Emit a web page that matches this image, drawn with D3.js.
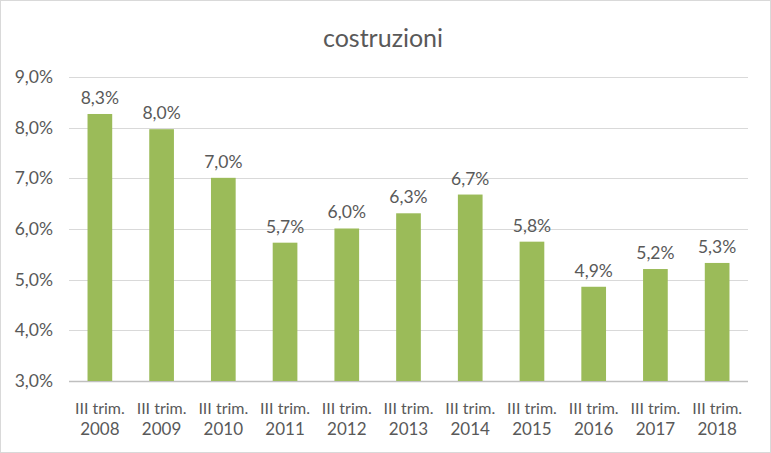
<!DOCTYPE html>
<html><head><meta charset="utf-8">
<script src="https://d3js.org/d3.v7.min.js"></script>
<style>body{margin:0;background:#fff}svg{display:block}text{font-family:Lato,"Open Sans",sans-serif;fill:#595959}</style>
</head><body>
<script>
const title = "costruzioni";
const categories = ["2008","2009","2010","2011","2012","2013","2014","2015","2016","2017","2018"];
const catPrefix = "III trim.";
const values = [8.27,7.97,7.01,5.73,6.01,6.31,6.68,5.75,4.86,5.21,5.33];
const labels = ["8,3%","8,0%","7,0%","5,7%","6,0%","6,3%","6,7%","5,8%","4,9%","5,2%","5,3%"];
const yTicks = [3,4,5,6,7,8,9];

const W=771,H=453;
const m={left:69,right:23,top:77,bottom:72};
const svg=d3.select("body").append("svg").attr("width",W).attr("height",H);
svg.append("rect").attr("x",0.5).attr("y",0.5).attr("width",W-1).attr("height",H-1).attr("fill","#fff").attr("stroke","#d9d9d9");
const x=d3.scaleBand().domain(categories).range([m.left,W-m.right]).paddingInner(0.6).paddingOuter(0.3);
const y=d3.scaleLinear().domain([3,9]).range([H-m.bottom,m.top]);

svg.append("g").selectAll("line").data(yTicks).join("line")
 .attr("x1",m.left).attr("x2",W-m.right).attr("y1",d=>Math.round(y(d))+0.5).attr("y2",d=>Math.round(y(d))+0.5)
 .attr("stroke",d=>d===3?"#bfbfbf":"#d9d9d9").attr("stroke-width",d=>d===3?1.5:1);
svg.append("g").selectAll("text").data(yTicks).join("text")
 .attr("x",m.left-16).attr("y",d=>y(d)).attr("dy","0.35em").attr("text-anchor","end")
 .style("font-size","17.5px").text(d=>d.toFixed(1).replace(".",",")+"%");

svg.append("g").selectAll("rect").data(values).join("rect")
 .attr("x",(d,i)=>x(categories[i])).attr("width",x.bandwidth())
 .attr("y",d=>y(d)).attr("height",d=>y(3)-y(d)).attr("fill","#9bbb59");

svg.append("g").selectAll("text").data(values).join("text")
 .attr("x",(d,i)=>x(categories[i])+x.bandwidth()/2).attr("y",d=>y(d)-10)
 .attr("text-anchor","middle").style("font-size","17.5px").text((d,i)=>labels[i]);

const cg=svg.append("g").selectAll("g").data(categories).join("g")
 .attr("transform",d=>`translate(${x(d)+x.bandwidth()/2},0)`);
cg.append("text").attr("y",414).attr("text-anchor","middle").style("font-size","16px").text(catPrefix);
cg.append("text").attr("y",435).attr("text-anchor","middle").style("font-size","17px").text(d=>d);

svg.append("text").attr("x",383).attr("y",47).attr("text-anchor","middle").style("font-size","25px").text(title);
</script>
</body></html>
